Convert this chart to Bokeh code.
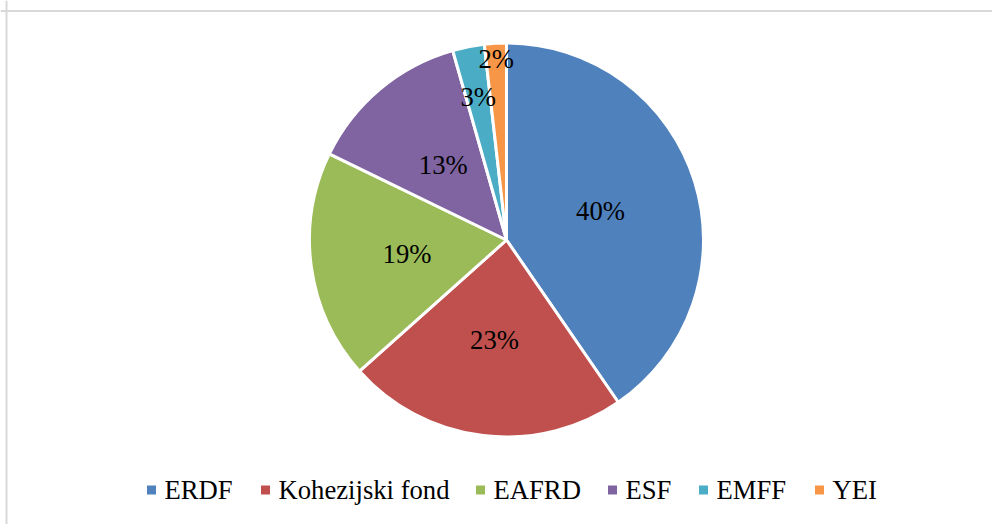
import numpy as np
from bokeh.plotting import figure
from bokeh.models import ColumnDataSource, Range1d, Span
from bokeh.core.properties import value
from bokeh.embed import file_html
from bokeh.resources import INLINE

# ---- data ----
categories = ["ERDF", "Kohezijski fond", "EAFRD", "ESF", "EMFF", "YEI"]
shares = [40.4, 23.0, 18.8, 13.4, 2.6, 1.8]
colors = ["#4F81BD", "#C0504D", "#9BBB59", "#8064A2", "#4BACC6", "#F79646"]

# ---- layout / style ----
# label distance from centre as fraction of radius (Excel best-fit style)
label_radius_frac = [0.5, 0.51, 0.51, 0.5, 0.74, 0.92]
# legend marker centres (x positions inside the plot)
legend_x = [151, 265, 480, 612, 703, 819]
W, H = 992, 524
LEGEND_Y = 34.5
CX, CY, R = 506, 284.5, 197
FONT = "Liberation Serif"
FSIZE = "20pt"

frac = np.array(shares) / sum(shares)
cum = np.concatenate([[0.0], np.cumsum(frac)])
start = np.pi / 2 - 2 * np.pi * cum[:-1]
end = np.pi / 2 - 2 * np.pi * cum[1:]
mid = (start + end) / 2
d = R * np.array(label_radius_frac)
lx = CX + d * np.cos(mid)
ly = CY + d * np.sin(mid)
labels = [f"{int(round(v))}%" for v in shares]

src = ColumnDataSource(dict(cat=categories, start=start, end=end, color=colors))
lsrc = ColumnDataSource(dict(x=lx, y=ly, text=labels))
gsrc = ColumnDataSource(dict(x=legend_x, tx=[x + 13 for x in legend_x],
                             y=[LEGEND_Y] * len(categories), cat=categories, color=colors))

p = figure(width=W, height=H, x_range=Range1d(0, W), y_range=Range1d(0, H),
           output_backend="svg", toolbar_location=None,
           x_axis_type=None, y_axis_type=None,
           min_border_left=0, min_border_right=0, min_border_top=0, min_border_bottom=0)
p.outline_line_color = None
p.background_fill_color = "white"
p.border_fill_color = "white"

# chart-area frame (only left and top edges visible in the reference crop)
p.add_layout(Span(location=6, dimension="height", line_color="#d9d9d9", line_width=2))
p.add_layout(Span(location=H - 10.5, dimension="width", line_color="#d9d9d9", line_width=2))

p.wedge(x=CX, y=CY, radius=R, radius_units="screen",
        start_angle="start", end_angle="end", direction="clock",
        fill_color="color", line_color="white", line_width=3, source=src)

p.text(x="x", y="y", text="text", source=lsrc, text_font=value(FONT),
       text_font_size=FSIZE, text_align="center", text_baseline="middle",
       text_color="black")

# legend
p.scatter(x="x", y="y", source=gsrc, marker="square", size=9,
          fill_color="color", line_color=None)
p.text(x="tx", y="y", text="cat", source=gsrc, text_font=value(FONT),
       text_font_size=FSIZE, text_align="left", text_baseline="middle",
       text_color="black")

open("out.html", "w").write(file_html(p, INLINE))
